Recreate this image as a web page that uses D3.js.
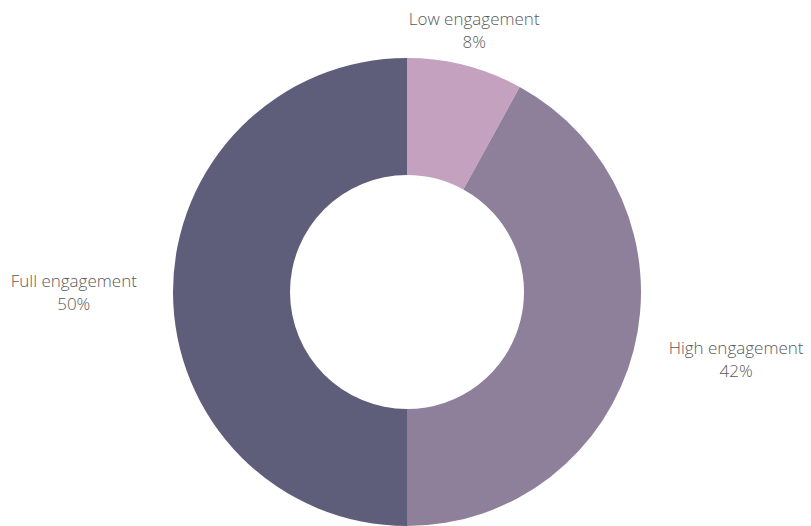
<!DOCTYPE html>
<html>
<head>
  <meta charset="utf-8">
  <script src="https://cdn.jsdelivr.net/npm/d3@7"></script>
  <style>
  body{ margin:0; background:#fff; }
  .label{
    font-family: "Open Sans", sans-serif;
    font-weight: 300;
    font-size: 17px;
    fill: #595959;
  }
  </style>
</head>
<body>
  <svg width="811" height="526"></svg>
<script>
var categories = ["Low engagement", "High engagement", "Full engagement"];
var values = [8, 42, 50];
var colors = ["#c4a2bf", "#8e7f9b", "#5e5e7a"];

var svg = d3.select("svg"),
    cx = 407, cy = 292,
    outerR = 234, innerR = 117, labelR = 270;

var data = categories.map(function(c, i){ return {name: c, value: values[i]}; });

var pie = d3.pie().sort(null).value(function(d){ return d.value; });
var arc = d3.arc().innerRadius(innerR).outerRadius(outerR);

var g = svg.append("g").attr("transform", "translate(" + cx + "," + cy + ")");

var arcs = pie(data);

g.selectAll("path")
  .data(arcs)
  .enter().append("path")
  .attr("d", arc)
  .attr("fill", function(d, i){ return colors[i]; });

// labels: two centred lines, the block pushed to the outside of the ring
var total = d3.sum(values);
var labels = g.selectAll(".label")
  .data(arcs)
  .enter().append("text")
  .attr("class", "label")
  .attr("text-anchor", "middle");

labels.append("tspan")
  .attr("x", 0).attr("y", -5)
  .text(function(d){ return d.data.name; });
labels.append("tspan")
  .attr("x", 0).attr("y", 18)
  .text(function(d){ return Math.round(100 * d.data.value / total) + "%"; });

labels.attr("transform", function(d){
  var a = (d.startAngle + d.endAngle) / 2, s = Math.sin(a);
  var w = this.getBBox().width;
  var x = labelR * s, y = -labelR * Math.cos(a);
  if (s > 0.5) x += w / 2;
  else if (s < -0.5) x -= w / 2;
  return "translate(" + x + "," + y + ")";
});
</script>
</body>
</html>
